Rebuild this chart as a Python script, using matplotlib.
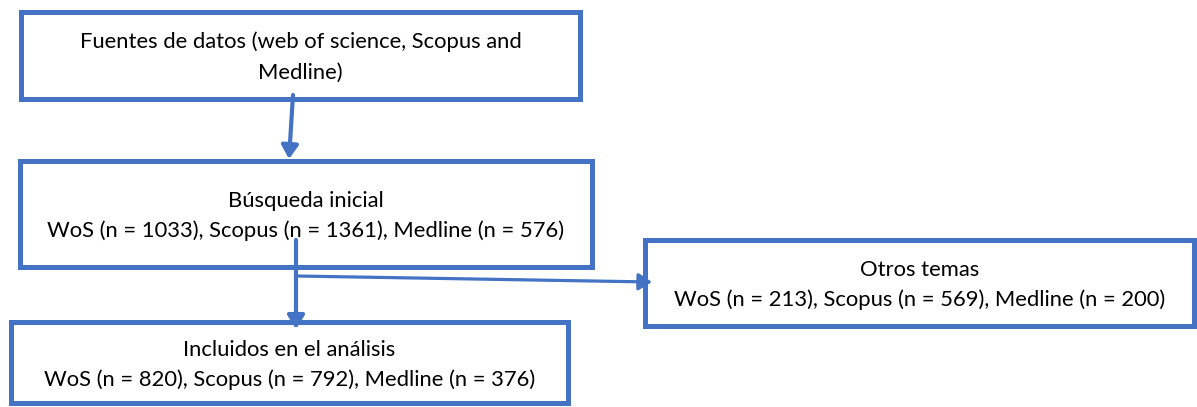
import matplotlib
matplotlib.use("Agg")
import matplotlib.pyplot as plt
from matplotlib.patches import Rectangle, FancyArrowPatch

# ---- data ----
sources = ["WoS", "Scopus", "Medline"]
initial_counts = [1033, 1361, 576]
other_counts = [213, 569, 200]
included_counts = [820, 792, 376]
titles = ["Fuentes de datos (web of science, Scopus and\nMedline)",
          "Búsqueda inicial",
          "Incluidos en el análisis",
          "Otros temas"]


def counts_line(counts):
    return ", ".join(f"{s} (n = {c})" for s, c in zip(sources, counts))


W, H = 1197, 407
DPI = 100
fig = plt.figure(figsize=(W / DPI, H / DPI), dpi=DPI)
ax = fig.add_axes([0, 0, 1, 1])
ax.set_xlim(0, W)
ax.set_ylim(H, 0)
ax.axis("off")

BLUE = "#4472C4"
FONT = ["Lato", "DejaVu Sans"]
FS = 15.8

# box geometry (x0, y0, x1, y1) in pixel layout coords
boxes = {
    "src": (21, 12, 580, 99),
    "init": (20, 161, 592, 267),
    "incl": (11, 322, 568, 403),
    "other": (645, 240, 1194, 326),
}
box_text = {
    "src": titles[0],
    "init": titles[1] + "\n" + counts_line(initial_counts),
    "incl": titles[2] + "\n" + counts_line(included_counts),
    "other": titles[3] + "\n" + counts_line(other_counts),
}

for key, (x0, y0, x1, y1) in boxes.items():
    ax.add_patch(Rectangle((x0, y0), x1 - x0, y1 - y0, facecolor="white",
                           edgecolor=BLUE, linewidth=3.6, zorder=2))
    lines = box_text[key].split("\n")
    cy = (y0 + y1) / 2
    base1 = cy - 7.0
    for i, ln in enumerate(lines):
        ax.text((x0 + x1) / 2, base1 + 30 * i, ln, ha="center", va="baseline",
                fontsize=FS, family=FONT, color="black", zorder=4)


def arrow(p0, p1, lw):
    a = FancyArrowPatch(p0, p1, arrowstyle="-|>,head_length=0.57,head_width=0.36",
                        mutation_scale=14, color=BLUE, linewidth=lw,
                        shrinkA=0, shrinkB=0, zorder=5)
    ax.add_patch(a)


arrow((293, 95), (289, 159), 3.0)
arrow((296, 240), (296, 329), 3.0)
arrow((296, 276), (652, 282), 2.3)

fig.savefig("out.png", dpi=DPI)
